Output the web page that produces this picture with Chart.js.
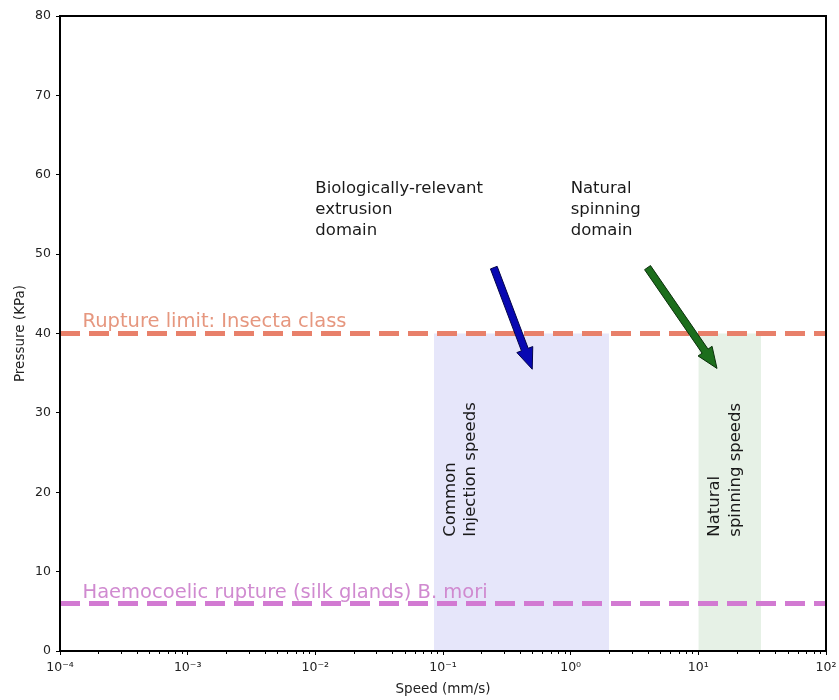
<!DOCTYPE html>
<html>
<head>
<meta charset="utf-8">
<script src="https://cdn.jsdelivr.net/npm/chart.js@4/dist/chart.umd.min.js"></script>
<style>
  html, body { margin: 0; padding: 0; background: #fff; }
  canvas { display: block; }
</style>
</head>
<body>
<canvas id="chart" width="839" height="700"></canvas>
<script>
// Axis ranges and tick labels
const speedRange = [1e-4, 1e2];
const pressureRange = [0, 80];
const speedDecades = [1e-4, 1e-3, 1e-2, 1e-1, 1, 10, 100];
const speedLabels = ['10⁻⁴', '10⁻³', '10⁻²', '10⁻¹', '10⁰', '10¹', '10²'];

// Rupture thresholds (KPa)
const insectaLimit = 40;
const bmoriLimit = 6;

// Speed domains (mm/s), shaded up to the insecta limit
const injectionSpeeds = [0.085, 2];
const spinningSpeeds = [10, 31];
const domainTop = 40;

// Arrows: [tail, head] as [speed, pressure]
const injectionArrow = [[0.25, 48.3], [0.5, 35.5]];
const spinningArrow = [[4, 48.3], [14, 35.6]];

// Text anchors (first-line baseline): [speed, pressure]
const insectaLabelAt = [1.5e-4, 40.8];
const bmoriLabelAt = [1.5e-4, 6.7];
const bioDomainAt = [0.01, 57.7];
const naturalDomainAt = [1, 57.7];
const injectionTextAt = [0.124, 14.4];
const spinningTextAt = [14.6, 14.4];

const FONT = "'DejaVu Sans', sans-serif";

function hline(y) {
  return [{ x: speedRange[0], y: y }, { x: speedRange[1], y: y }];
}
function span(range, top) {
  return [{ x: range[0], y: top }, { x: range[1], y: top }];
}

const overlay = {
  id: 'overlay',
  afterDatasetsDraw(chart) {
    const { ctx, chartArea: a, scales: { x, y } } = chart;
    const px = v => x.getPixelForValue(v);
    const py = v => y.getPixelForValue(v);

    ctx.save();
    ctx.beginPath();
    ctx.rect(a.left, a.top, a.right - a.left, a.bottom - a.top);
    ctx.clip();

    // arrows
    function arrow(pts, fill, edge) {
      const x0 = px(pts[0][0]), y0 = py(pts[0][1]);
      const x1 = px(pts[1][0]), y1 = py(pts[1][1]);
      const dx = x1 - x0, dy = y1 - y0, len = Math.hypot(dx, dy);
      const ux = dx / len, uy = dy / len, nx = -uy, ny = ux;
      const w = 3.6, hw = 8.5, hl = 21;
      const bx = x1 - ux * hl, by = y1 - uy * hl;
      ctx.beginPath();
      ctx.moveTo(x0 + nx * w, y0 + ny * w);
      ctx.lineTo(bx + nx * w, by + ny * w);
      ctx.lineTo(bx + nx * hw, by + ny * hw);
      ctx.lineTo(x1, y1);
      ctx.lineTo(bx - nx * hw, by - ny * hw);
      ctx.lineTo(bx - nx * w, by - ny * w);
      ctx.lineTo(x0 - nx * w, y0 - ny * w);
      ctx.closePath();
      ctx.fillStyle = fill;
      ctx.fill();
      ctx.lineWidth = 1;
      ctx.strokeStyle = edge;
      ctx.stroke();
    }
    arrow(injectionArrow, '#0808b2', '#04044a');
    arrow(spinningArrow, '#1c6e1c', '#0b300b');

    // threshold labels
    ctx.font = '19.5px ' + FONT;
    ctx.textAlign = 'left';
    ctx.textBaseline = 'alphabetic';
    ctx.fillStyle = '#e6977f';
    ctx.fillText('Rupture limit: Insecta class', px(insectaLabelAt[0]), py(insectaLabelAt[1]));
    ctx.fillStyle = '#d08ad0';
    ctx.fillText('Haemocoelic rupture (silk glands) B. mori', px(bmoriLabelAt[0]), py(bmoriLabelAt[1]));

    // domain annotations
    ctx.font = '16.5px ' + FONT;
    ctx.fillStyle = '#1a1a1a';
    function block(lines, at) {
      lines.forEach((t, i) => ctx.fillText(t, px(at[0]), py(at[1]) + i * 21));
    }
    block(['Biologically-relevant', 'extrusion', 'domain'], bioDomainAt);
    block(['Natural', 'spinning', 'domain'], naturalDomainAt);

    // vertical labels inside the shaded domains
    function vblock(lines, at) {
      ctx.save();
      ctx.translate(px(at[0]), py(at[1]));
      ctx.rotate(-Math.PI / 2);
      lines.forEach((t, i) => ctx.fillText(t, 0, i * 20.5));
      ctx.restore();
    }
    vblock(['Common', 'Injection speeds'], injectionTextAt);
    vblock(['Natural', 'spinning speeds'], spinningTextAt);
    ctx.restore();
  },
  afterDraw(chart) {
    const { ctx, chartArea: a, scales: { x } } = chart;
    ctx.save();
    // minor ticks on the log axis
    ctx.strokeStyle = '#000';
    ctx.lineWidth = 1;
    for (let e = -4; e < 2; e++) {
      for (let m = 2; m <= 9; m++) {
        const v = m * Math.pow(10, e);
        const xp = Math.round(x.getPixelForValue(v)) + 0.5;
        ctx.beginPath();
        ctx.moveTo(xp, a.bottom);
        ctx.lineTo(xp, a.bottom + 3);
        ctx.stroke();
      }
    }
    // frame
    ctx.lineWidth = 2;
    ctx.strokeRect(a.left, a.top, a.right - a.left, a.bottom - a.top);
    ctx.restore();
  }
};

new Chart(document.getElementById('chart'), {
  type: 'line',
  data: {
    datasets: [
      {
        data: hline(insectaLimit),
        borderColor: '#e8806a',
        borderWidth: 5,
        borderDash: [20, 9],
        pointRadius: 0,
        fill: false,
        order: 1
      },
      {
        data: hline(bmoriLimit),
        borderColor: '#d27ad2',
        borderWidth: 5,
        borderDash: [20, 9],
        pointRadius: 0,
        fill: false,
        order: 1
      },
      {
        data: span(injectionSpeeds, domainTop),
        borderColor: 'rgba(0,0,255,0.05)',
        borderWidth: 0,
        backgroundColor: '#e6e6fa',
        pointRadius: 0,
        fill: 'origin',
        order: 5
      },
      {
        data: span(spinningSpeeds, domainTop),
        borderColor: 'rgba(0,128,0,0.05)',
        borderWidth: 0,
        backgroundColor: '#e6f1e6',
        pointRadius: 0,
        fill: 'origin',
        order: 5
      }
    ]
  },
  options: {
    responsive: false,
    animation: false,
    layout: { padding: { top: 16, right: 13, left: 0, bottom: 0 } },
    plugins: {
      legend: { display: false },
      tooltip: { enabled: false }
    },
    scales: {
      x: {
        type: 'logarithmic',
        min: speedRange[0],
        max: speedRange[1],
        afterFit(s) {
          s.height = 49;
          s.paddingLeft = 0;
          s.paddingRight = 0;
        },
        afterBuildTicks(s) { s.ticks = speedDecades.map(v => ({ value: v, major: true })); },
        ticks: {
          autoSkip: false,
          maxRotation: 0,
          padding: 5,
          color: '#222',
          font: { family: FONT, size: 12.5 },
          callback: (v, i) => speedLabels[i]
        },
        grid: { drawOnChartArea: false, drawTicks: true, tickLength: 4, color: '#000', lineWidth: 1 },
        border: { display: true, color: '#000', width: 2 },
        title: {
          display: true,
          text: 'Speed (mm/s)',
          color: '#222',
          font: { family: FONT, size: 13.5 },
          padding: { top: 4, bottom: 2 }
        }
      },
      y: {
        min: pressureRange[0],
        max: pressureRange[1],
        afterFit(s) {
          s.width = 60;
          s.paddingTop = 0;
          s.paddingBottom = 0;
        },
        ticks: {
          stepSize: 10,
          padding: 5,
          color: '#222',
          font: { family: FONT, size: 12.5 }
        },
        grid: { drawOnChartArea: false, drawTicks: true, tickLength: 4, color: '#000', lineWidth: 1 },
        border: { display: true, color: '#000', width: 2 },
        title: {
          display: true,
          text: 'Pressure (KPa)',
          color: '#222',
          font: { family: FONT, size: 13.5 },
          padding: { top: 12, bottom: 0 }
        }
      }
    }
  },
  plugins: [overlay]
});
</script>
</body>
</html>
